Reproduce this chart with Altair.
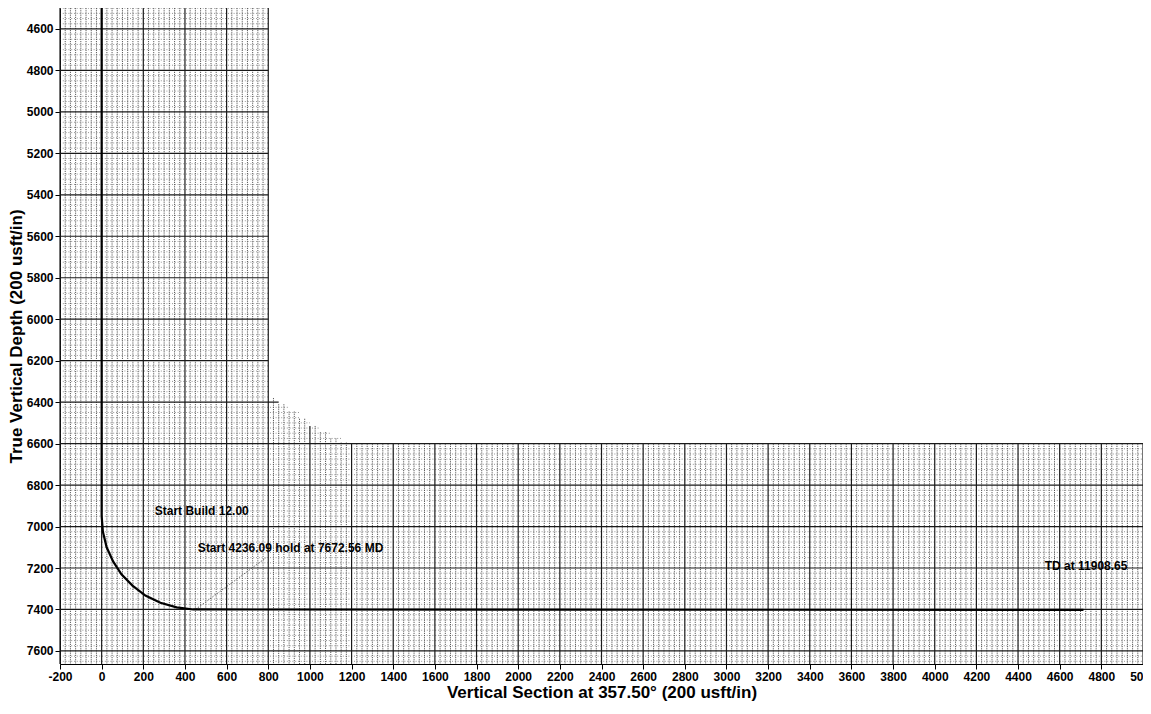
import altair as alt
import pandas as pd
import numpy as np

# ---------------- data ----------------
x_ticks = list(range(-200, 5001, 200))
y_ticks = list(range(4600, 7601, 200))
X_MIN, X_MAX = -200, 5000
Y_MIN, Y_MAX = 4499, 7663

# grid paper extent: left block up to VS 800, bottom block below TVD 6600, staircase between
step_vs = [800, 850, 900, 950, 1000, 1050, 1100, 1150, 1200]
step_top = [6380, 6410, 6445, 6480, 6515, 6545, 6575, 6595]
bottom_top = 6600

# well path (vertical section, TVD)
path_vs = [0, 0, 6, 24, 55, 95, 148, 210, 282, 360, 440, 4714]
path_tvd = [4499, 6950, 7025, 7100, 7168, 7230, 7285, 7333, 7368, 7390, 7400, 7402]

# leader from end of build to label
leader_vs = [450, 790]
leader_tvd = [7400, 7150]

ann_text = ["Start Build 12.00", "Start 4236.09 hold at 7672.56 MD", "TD at 11908.65"]
ann_vs = [255, 462, 4528]
ann_tvd = [6925, 7102, 7190]

# ---------------- grid construction ----------------
def col_top(x):
    if x <= step_vs[0]:
        return Y_MIN
    for i in range(len(step_top)):
        if step_vs[i] <= x < step_vs[i + 1]:
            return step_top[i]
    return bottom_top

def row_right(d):
    if d >= bottom_top:
        return X_MAX
    r = step_vs[0]
    for i in range(len(step_top)):
        if step_top[i] <= d:
            r = step_vs[i + 1]
    return r

v_rows = []
for xv in range(X_MIN, X_MAX + 1, 25):
    v_rows.append({"x": xv, "y": col_top(xv), "y2": Y_MAX, "major": xv % 200 == 0})
vdf = pd.DataFrame(v_rows)

h_rows = []
for d in range(4500, int(Y_MAX), 25):
    h_rows.append({"y": d, "x": X_MIN, "x2": row_right(d), "major": d % 200 == 0})
hdf = pd.DataFrame(h_rows)

path_df = pd.DataFrame({"x": path_vs, "y": path_tvd, "i": range(len(path_vs))})
leader_df = pd.DataFrame({"x": leader_vs, "y": leader_tvd, "i": range(len(leader_vs))})
ann_df = pd.DataFrame({"x": ann_vs, "y": ann_tvd, "t": ann_text})

FONT = "Liberation Sans"
LBL = "datum.value < 0 ? '-' + abs(datum.value) : '' + datum.value"
xs = alt.Scale(domain=[X_MIN, X_MAX], nice=False, zero=False)
ys = alt.Scale(domain=[Y_MIN, Y_MAX], nice=False, zero=False, reverse=True)
xaxis = alt.Axis(values=x_ticks, labelExpr=LBL, grid=False,
                 title="Vertical Section at 357.50° (200 usft/in)", labelFlush=False, titlePadding=2)
yaxis = alt.Axis(values=y_ticks, labelExpr=LBL, grid=False,
                 title="True Vertical Depth (200 usft/in)", titlePadding=1)

def X(f="x"):
    return alt.X(f + ":Q", scale=xs, axis=xaxis)

def Y(f="y"):
    return alt.Y(f + ":Q", scale=ys, axis=yaxis)

minor_v = alt.Chart(vdf[~vdf.major]).mark_rule(color="#333333", strokeWidth=1.0, strokeDash=[1.2, 1.0], opacity=0.8).encode(
    x=X(), y=Y(), y2="y2:Q")
minor_h = alt.Chart(hdf[~hdf.major]).mark_rule(color="#444444", strokeWidth=0.8, strokeDash=[1, 1.8], opacity=0.7).encode(
    y=Y(), x=X(), x2="x2:Q")
major_v = alt.Chart(vdf[vdf.major]).mark_rule(color="#1a1a1a", strokeWidth=1.2).encode(
    x=X(), y=Y(), y2="y2:Q")
major_h = alt.Chart(hdf[hdf.major]).mark_rule(color="#1a1a1a", strokeWidth=1.2).encode(
    y=Y(), x=X(), x2="x2:Q")

path = alt.Chart(path_df).mark_line(color="black", strokeWidth=2.2).encode(
    x=X(), y=Y(), order="i:Q")
leader = alt.Chart(leader_df).mark_line(color="#555555", strokeWidth=0.9, strokeDash=[1.5, 1.5]).encode(
    x=X(), y=Y(), order="i:Q")
labels = alt.Chart(ann_df).mark_text(align="left", baseline="middle", font=FONT, fontWeight="bold",
                                      fontSize=12, color="black").encode(
    x=X(), y=Y(), text="t:N")

chart = alt.layer(minor_v, minor_h, major_v, major_h, leader, path, labels).properties(
    width=1083, height=656,
    padding={"left": 52, "top": 0, "right": 0, "bottom": 40},
    autosize=alt.AutoSizeParams(type="none"),
).configure_view(strokeWidth=0).configure_axis(
    labelFont=FONT, labelFontWeight="bold", labelFontSize=12, labelColor="black",
    titleFont=FONT, titleFontWeight="bold", titleFontSize=17, titleColor="black",
    domainColor="black", tickColor="black", tickSize=5, labelPadding=2,
)

chart.save("out.html", embed_options={"renderer": "svg", "actions": False})
